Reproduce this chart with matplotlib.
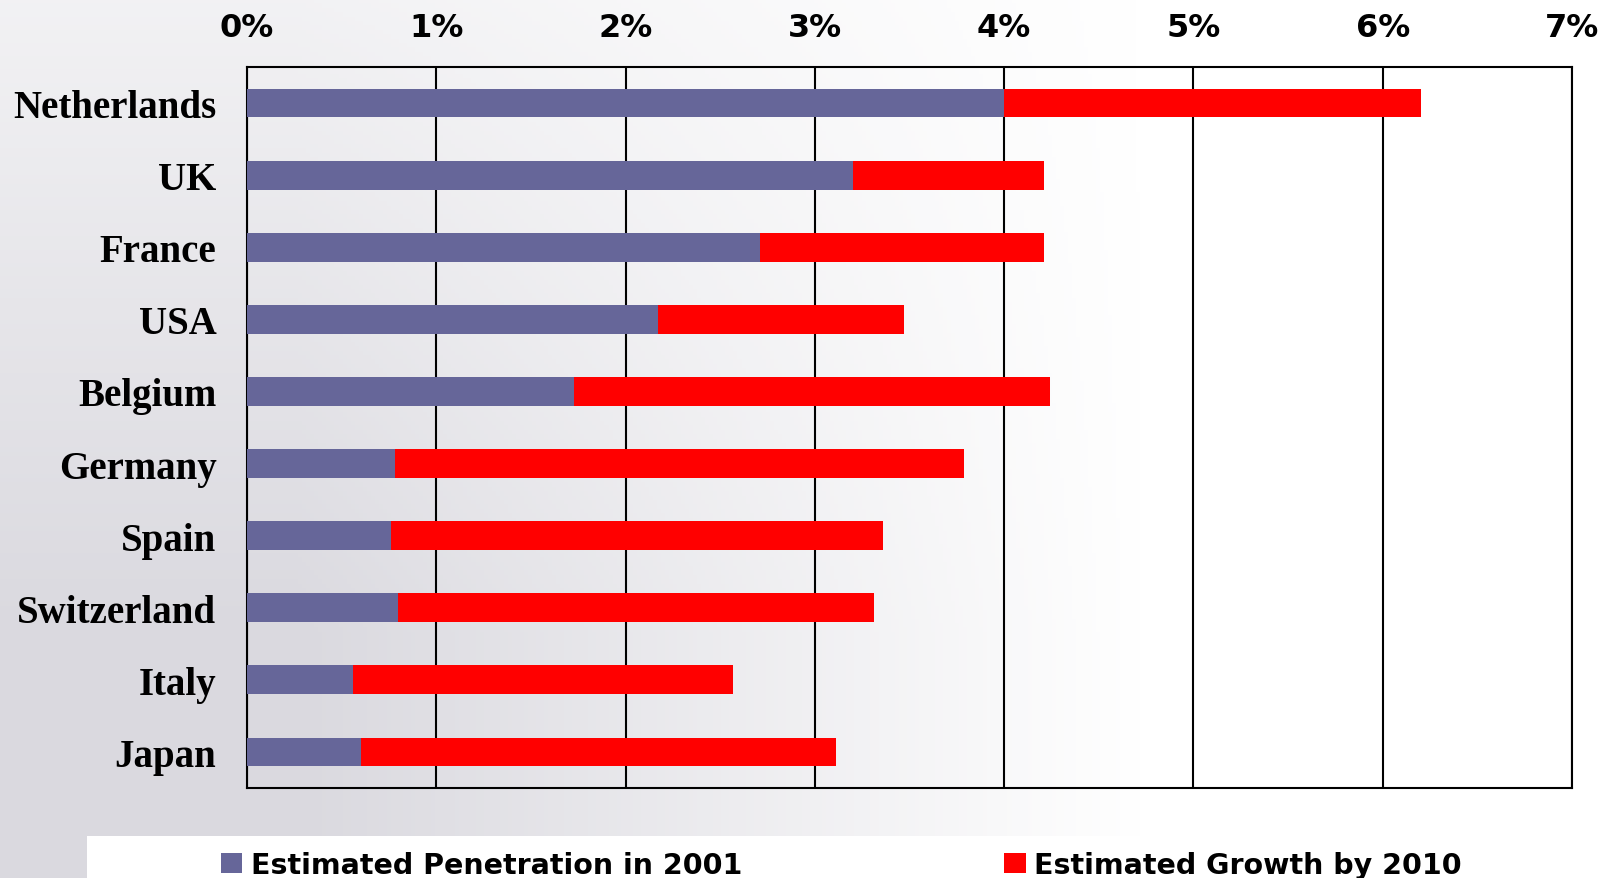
import numpy as np
import matplotlib.pyplot as plt
from matplotlib.patches import Rectangle
from matplotlib.colors import LinearSegmentedColormap

countries = ['Netherlands', 'UK', 'France', 'USA', 'Belgium', 'Germany',
             'Spain', 'Switzerland', 'Italy', 'Japan']
penetration_2001 = [4.00, 3.20, 2.71, 2.17, 1.73, 0.78, 0.76, 0.80, 0.56, 0.60]
growth_2010 = [2.20, 1.01, 1.50, 1.30, 2.51, 3.01, 2.60, 2.51, 2.01, 2.51]
xticks = [0, 1, 2, 3, 4, 5, 6, 7]
xtick_labels = ['0%', '1%', '2%', '3%', '4%', '5%', '6%', '7%']

blue = '#666699'
red = '#ff0000'

fig = plt.figure(figsize=(16.12, 8.79), dpi=100)

# faded background, grey on the lower left fading to white on the right
bg = fig.add_axes([0, 0, 1, 1], zorder=0)
gx = np.linspace(0, 1, 400)
gy = np.linspace(0, 1, 200)
X, Y = np.meshgrid(gx, gy)
shade = np.clip(1.35 - 1.9 * X, 0, 1) * np.clip(1.25 - 0.9 * Y, 0, 1)
cmap = LinearSegmentedColormap.from_list('bg', ['#ffffff', '#dad9df'])
bg.imshow(shade, cmap=cmap, vmin=0, vmax=1, aspect='auto', extent=[0, 1, 0, 1],
          origin='lower')
bg.add_patch(Rectangle((87 / 1612, 0), 1, 42 / 879, color='white', lw=0))
bg.set_xlim(0, 1)
bg.set_ylim(0, 1)
bg.axis('off')

ax = fig.add_axes([247 / 1612, 1 - 789 / 879, 1325 / 1612, 721 / 879], zorder=1)
ax.patch.set_alpha(0)

y = np.arange(len(countries))
b1 = ax.barh(y, penetration_2001, height=0.4, color=blue, zorder=3,
             label='Estimated Penetration in 2001')
b2 = ax.barh(y, growth_2010, left=penetration_2001, height=0.4, color=red,
             zorder=3, label='Estimated Growth by 2010')

ax.set_xlim(0, 7)
ax.set_ylim(9.5, -0.5)
ax.set_xticks(xticks)
ax.set_xticklabels(xtick_labels, fontsize=23, fontweight='bold',
                   family='DejaVu Sans')
ax.xaxis.tick_top()
ax.tick_params(axis='x', length=0, pad=17)
ax.set_yticks(y)
ax.set_yticklabels(countries, fontsize=28, fontweight='bold',
                   family='Liberation Serif')
ax.tick_params(axis='y', length=0, pad=22)
ax.grid(axis='x', color='black', lw=1.5, zorder=1)
for s in ax.spines.values():
    s.set_linewidth(1.5)

fig.legend(handles=[b1, b2], loc='center left',
           bbox_to_anchor=(221 / 1612, 1 - 866 / 879),
           ncol=2, frameon=False, borderpad=0, borderaxespad=0,
           handlelength=0.75, handleheight=0.75,
           handletextpad=0.3, columnspacing=9.2,
           prop={'family': 'DejaVu Sans', 'weight': 'bold', 'size': 20.5})

fig.savefig('out.png', dpi=100)
